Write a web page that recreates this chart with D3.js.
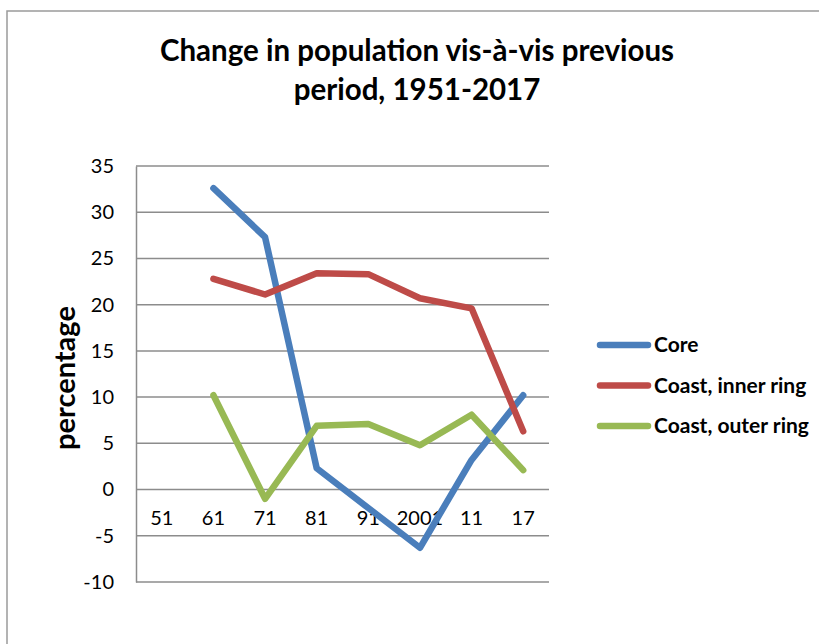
<!DOCTYPE html>
<html>
<head>
<meta charset="utf-8">
<script src="https://cdn.jsdelivr.net/npm/d3@7"></script>
<style>
  html, body { margin: 0; padding: 0; background: #fff; }
  svg { display: block; }
  text { font-family: Lato, "Open Sans", "Noto Sans", sans-serif; fill: #000; }
</style>
</head>
<body>
<svg id="chart" width="819" height="644"></svg>
<script>
const categories = ["51", "61", "71", "81", "91", "2001", "11", "17"];
const coreValues = [null, 32.6, 27.3, 2.3, -2.0, -6.3, 3.2, 10.2];
const innerRingValues = [null, 22.8, 21.1, 23.4, 23.3, 20.7, 19.6, 6.3];
const outerRingValues = [null, 10.2, -1.0, 6.9, 7.1, 4.8, 8.1, 2.1];
const seriesNames = ["Core", "Coast, inner ring", "Coast, outer ring"];
const seriesColors = ["#4a7ebb", "#be4b48", "#98b954"];
const yTicks = [35, 30, 25, 20, 15, 10, 5, 0, -5, -10];
const titleLines = ["Change in population vis-à-vis previous", "period, 1951-2017"];
const yAxisTitle = "percentage";

const series = [coreValues, innerRingValues, outerRingValues].map((vals, i) => ({
  name: seriesNames[i], color: seriesColors[i],
  points: vals.map((v, j) => ({ cat: categories[j], v }))
}));

const svg = d3.select("#chart");

// outer border
svg.append("rect").attr("x", 7).attr("y", 11).attr("width", 830).attr("height", 660)
  .attr("fill", "none").attr("stroke", "#9a9a9a").attr("stroke-width", 1.5);

const plot = { left: 136, right: 549, top: 166, bottom: 582 };
const x = d3.scaleBand().domain(categories).range([plot.left, plot.right]);
const y = d3.scaleLinear().domain([-10, 35]).range([plot.bottom, plot.top]);

// gridlines
svg.append("g").selectAll("line").data(yTicks).join("line")
  .attr("x1", plot.left).attr("x2", plot.right)
  .attr("y1", d => y(d)).attr("y2", d => y(d))
  .attr("stroke", "#8c8c8c").attr("stroke-width", 1.5);

// y axis
const yAxis = d3.axisLeft(y).tickValues(yTicks).tickSize(0).tickPadding(22)
  .tickFormat(d => String(d));
const gy = svg.append("g").attr("transform", `translate(${plot.left},0)`).call(yAxis);
gy.select(".domain").attr("stroke", "#8c8c8c").attr("stroke-width", 1.5);
gy.selectAll("text").style("font-size", "20px").style("font-family", "Lato, sans-serif");

// x axis labels (at 0 line, below)
const xAxis = d3.axisBottom(x).tickSize(0).tickPadding(21);
const gx = svg.append("g").attr("transform", `translate(0,${y(0)})`).call(xAxis);
gx.select(".domain").remove();
gx.selectAll("text").style("font-size", "20px").style("font-family", "Lato, sans-serif");

// lines
const line = d3.line().defined(d => d.v !== null)
  .x(d => x(d.cat) + x.bandwidth() / 2).y(d => y(d.v));
svg.append("g").selectAll("path").data(series).join("path")
  .attr("d", d => line(d.points))
  .attr("fill", "none").attr("stroke", d => d.color)
  .attr("stroke-width", 6.5).attr("stroke-linejoin", "round").attr("stroke-linecap", "round");

// title
svg.append("g").selectAll("text").data(titleLines).join("text")
  .attr("x", 417).attr("y", (d, i) => 61 + i * 39)
  .attr("text-anchor", "middle").style("font-size", "29.5px").style("font-weight", "bold")
  .text(d => d);

// y axis title
svg.append("text").attr("transform", "translate(75,378) rotate(-90)")
  .attr("text-anchor", "middle").style("font-size", "29px").style("font-weight", "bold")
  .text(yAxisTitle);

// legend
const legend = svg.append("g").selectAll("g").data(series).join("g")
  .attr("transform", (d, i) => `translate(0,${345 + i * 40.5})`);
legend.append("line").attr("x1", 600).attr("x2", 648).attr("y1", 0).attr("y2", 0)
  .attr("stroke", d => d.color).attr("stroke-width", 6.5).attr("stroke-linecap", "round");
legend.append("text").attr("x", 654).attr("y", 7)
  .style("font-size", "21px").style("font-weight", "bold").text(d => d.name);
</script>
</body>
</html>
